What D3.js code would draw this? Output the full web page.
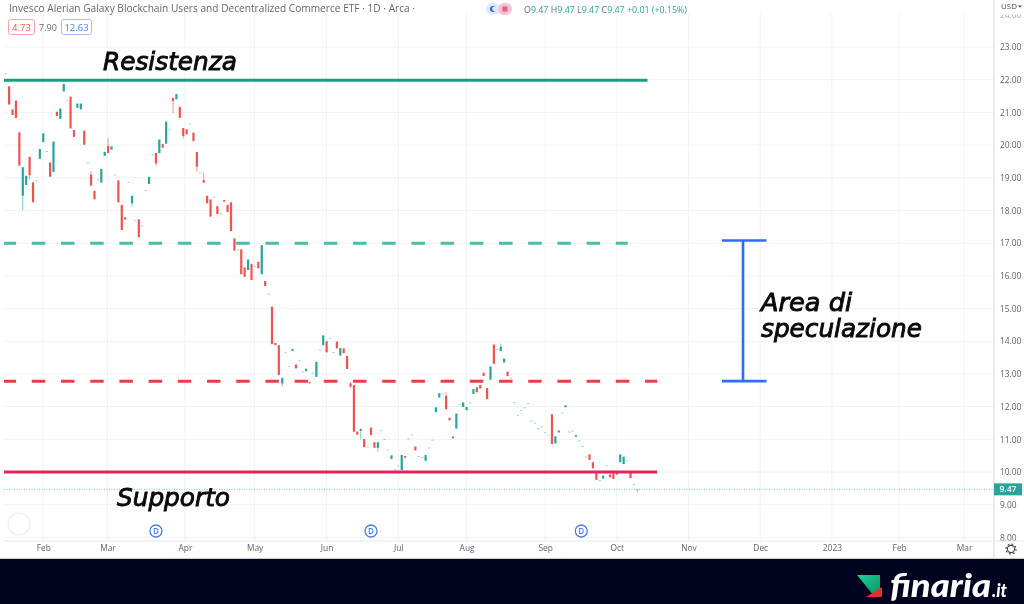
<!DOCTYPE html>
<html><head><meta charset="utf-8">
<script src="https://cdn.jsdelivr.net/npm/d3@7"></script>
<style>
html,body{margin:0;padding:0;background:#fff;overflow:hidden}
svg{display:block;filter:blur(0.3px)}
text{font-family:"Open Sans",sans-serif}
.hand{font-family:"DejaVu Sans",sans-serif;font-style:italic;font-weight:400;font-size:25px;fill:#0a0a0a;stroke:#0a0a0a;stroke-width:.9px}
</style></head><body>
<svg id="c" width="1024" height="604"></svg>
<script>
const opens=[22.2,21.8,21.09,21.36,20.39,18.45,18.78,19.64,18.86,18.92,19.58,20.09,19.82,19.47,19.18,21.02,20.8,21.64,21.38,21.48,20.46,21.14,21.09,20.44,19.47,19.1,18.6,18.95,18.85,19.67,
19.97,19.86,19.1,18.92,18.17,17.79,18.88,18.22,17.71,17.73,17.54,18.62,18.81,19.72,19.76,19.75,20.03,20.04,20.5,21.44,21.4,21.17,20.52,20.48,20.66,20.38,19.79,19.16,18.93,18.45,
18.34,18.42,18.13,17.91,18.32,18.17,18.25,17.15,16.81,16.81,16.26,16.18,16.36,16.31,16.43,16.05,15.84,15.46,15.06,13.95,13.88,12.71,13.67,13.24,13.7,13.29,13.42,13.08,13.08,12.75,
13.04,12.91,13.74,13.88,14,14.11,13.67,13.99,13.56,13.78,13.55,12.71,12.66,11.24,11.26,11.01,10.78,11.36,10.91,10.74,11.28,11.01,10.69,10.4,10.09,10.2,10.06,10.49,11.03,11.15,
10.78,10.49,10.46,10.34,10.75,10.99,11.83,12.28,12.4,12.33,11.66,11.09,11.33,12.07,11.99,11.89,12.13,12.39,12.59,12.66,13.04,12.57,12.82,13.9,13.76,13.7,13.35,13.07,12.89,12.14,
11.74,11.9,11.98,12.11,11.57,11.51,11.34,11.4,11.22,11.14,11.77,10.87,11.21,11.82,11.98,11.24,11.27,11.08,10.97,10.8,10.48,10.54,10.3,9.98,9.75,9.8,10.2,9.93,9.96,9.92,
10.3,10.24,10.36,10.01,9.63,9.47];
const closes=[22.2,21.24,20.92,20.83,19.37,19.32,19.06,19.08,18.25,18.92,19.88,20.36,19.82,19.03,20.11,20.89,21.12,21.87,21.38,20.51,20.25,21.27,21.27,20.01,19.47,18.76,18.34,18.95,19.27,19.79,
19.76,19.96,19.1,18.25,17.4,17.72,18.88,18.45,17.71,17.18,17.54,18.62,19.03,19.72,19.44,20.17,19.92,20.72,20.5,21.35,21.56,20.83,20.28,20.33,20.66,20.12,19.34,19.16,18.85,18.22,
17.81,18.42,17.89,17.91,18.27,17.95,17.37,16.77,16.81,16.05,15.97,16.5,15.87,16.31,16.23,16.94,15.69,15.46,13.91,13.88,12.97,12.88,13.67,13.24,13.76,13.17,13.42,13.08,13.16,12.71,
13.04,13.37,13.74,14.18,13.66,14.11,13.67,13.78,13.79,13.63,13.15,12.61,11.23,11.14,11.32,10.76,10.78,11.13,10.74,10.91,11.28,11.01,10.69,10.51,10.09,10.2,10.52,10.45,11.03,11.15,
10.66,10.49,10.46,10.52,10.75,10.99,11.98,12.41,12.4,11.92,11.58,11.03,11.79,12.07,12.13,11.99,12.13,12.54,12.44,12.55,12.94,12.23,13.23,13.31,13.76,13.83,13.47,12.93,12.89,12.14,
11.74,11.9,11.98,12.11,11.57,11.51,11.34,11.4,11.22,11.14,10.86,11.09,11.27,11.82,12.04,11.24,11.27,11.13,10.97,10.8,10.48,10.37,10.11,9.76,9.75,9.89,10.2,9.84,9.79,10,
10.54,10.47,10.36,9.81,9.63,9.47];
const wickHighs={30:20.21,145:13.93,178:10.06,129:12.44,58:19.16,101:12.75,25:19.2};
const wickLows={5:18.01,7:18.96,37:18.12,44:19.36,49:20.98,52:20.2,56:19.18,81:12.61,104:11,109:10.62,117:10.39,185:9.37,101:12.57};
const priceTicks=[8,9,10,11,12,13,14,15,16,17,18,19,20,21,22,23,24];
const monthIndex=[11,29.8,52.5,72.9,94,115,135,158,179,200,221,242,261.7,280.7];
const monthLabels=["Feb","Mar","Apr","May","Jun","Jul","Aug","Sep","Oct","Nov","Dec","2023","Feb","Mar"];
const dividendIndex=[44,107,168.6];
const levels=[{p:21.98,c:"#1c9d85",end:188,w:3,dash:null},{p:17.0,c:"#45bfa5",end:182.2,w:3,dash:"13.5 15.7"},{p:12.78,c:"#f23a4b",end:190.8,w:3,dash:"13.5 15.7"},{p:10.0,c:"#e8225f",end:190.8,w:3,dash:null}];
const rangeBand=[12.78,17.08];
const lastPrice=9.47;

const svg=d3.select("#c");
const y=d3.scaleLinear().domain([8,23]).range([537.4,47]);
const x=d3.scaleLinear().domain([0,185]).range([5.7,637.3]);
const R=994,B=541;

const g=svg.append("g");
g.selectAll(".h").data(priceTicks.filter(d=>d<24)).join("line").attr("x1",4).attr("x2",R).attr("y1",d=>y(d)).attr("y2",d=>y(d)).attr("stroke","#f1f2f4").attr("stroke-width",1);
g.selectAll(".v").data(monthIndex).join("line").attr("x1",d=>x(d)).attr("x2",d=>x(d)).attr("y1",13).attr("y2",B).attr("stroke","#f1f2f4").attr("stroke-width",1);

svg.append("line").attr("x1",4).attr("x2",R).attr("y1",y(lastPrice)).attr("y2",y(lastPrice)).attr("stroke","#26a69a").attr("stroke-width",1).attr("stroke-dasharray","1 1.5").attr("opacity",.65);

const n=d3.range(opens.length);
const col=i=>closes[i]>=opens[i]?"#26a69a":"#ef5350";
const cg=svg.append("g");
n.forEach(i=>{
  const o=opens[i],c=closes[i],hi=wickHighs[i]??Math.max(o,c),lo=wickLows[i]??Math.min(o,c);
  const doji=o===c;
  if(hi>Math.max(o,c)||lo<Math.min(o,c))
    cg.append("line").attr("x1",x(i)).attr("x2",x(i)).attr("y1",y(hi)).attr("y2",y(lo)).attr("stroke",col(i)).attr("stroke-width",1).attr("opacity",.6);
  const t=y(Math.max(o,c)),h=Math.max(1,Math.abs(y(o)-y(c)));
  cg.append("rect").attr("x",x(i)-(doji?1.2:1.1)).attr("width",doji?2.4:2.2).attr("y",t).attr("height",h).attr("fill",col(i)).attr("opacity",doji?.45:1);
});

svg.selectAll(".lv").data(levels).join("line").attr("x1",4).attr("x2",d=>x(d.end)).attr("y1",d=>y(d.p)).attr("y2",d=>y(d.p)).attr("stroke",d=>d.c).attr("stroke-width",d=>d.w).attr("stroke-dasharray",d=>d.dash).attr("stroke-dashoffset",1.4);

const bc="#2f6bff";
const [bl,bt]=rangeBand;
svg.append("line").attr("x1",743).attr("x2",743).attr("y1",y(bt)).attr("y2",y(bl)).attr("stroke",bc).attr("stroke-width",2.6);
[bt,bl].forEach(v=>svg.append("line").attr("x1",722).attr("x2",766.5).attr("y1",y(v)).attr("y2",y(v)).attr("stroke",bc).attr("stroke-width",2.6));

const dg=svg.selectAll(".d").data(dividendIndex).join("g").attr("transform",d=>`translate(${x(d)},531)`);
dg.append("circle").attr("r",6).attr("fill","#fff").attr("stroke","#4a7df0").attr("stroke-width",1.3);
dg.append("text").attr("text-anchor","middle").attr("y",3).attr("font-size",8).attr("font-weight",600).attr("fill","#4a7df0").text("D");
svg.append("circle").attr("cx",19).attr("cy",524).attr("r",11).attr("fill","#fff").attr("stroke","#eceef0").attr("stroke-width",1.2);

const hand=(t,px,py,len)=>svg.append("text").attr("class","hand").attr("x",px).attr("y",py).attr("textLength",len).attr("lengthAdjust","spacingAndGlyphs").text(t);
hand("Resistenza",103,70,134);
hand("Supporto",117,506,113);
hand("Area di",761,311,91);
hand("speculazione",761,337,161);

svg.append("rect").attr("x",R).attr("y",0).attr("width",30).attr("height",559).attr("fill","#fff");
svg.append("rect").attr("x",0).attr("y",B).attr("width",1024).attr("height",18).attr("fill","#fff");
const ya=svg.append("g").attr("transform",`translate(${R},0)`).call(d3.axisRight(y).tickValues(priceTicks).tickFormat(d3.format(".2f")).tickSize(0).tickPadding(6));
ya.select(".domain").remove();
ya.selectAll("text").attr("font-size",8.4).attr("fill","#5f626c").attr("style","font-family:'Open Sans',sans-serif");
ya.selectAll("text").filter(d=>d===24).attr("opacity",.55);
svg.append("rect").attr("x",R+1).attr("y",0).attr("width",29).attr("height",14.5).attr("fill","#fff");
const xa=svg.append("g").attr("transform",`translate(0,${B+2.5})`).call(d3.axisBottom(x).tickValues(monthIndex).tickFormat((d,i)=>monthLabels[i]).tickSize(0).tickPadding(2));
xa.select(".domain").remove();
xa.selectAll("text").attr("font-size",8.4).attr("fill","#5f626c").attr("style","font-family:'Open Sans',sans-serif");
svg.append("line").attr("x1",R).attr("x2",R).attr("y1",0).attr("y2",559).attr("stroke","#d6d8dd");
svg.append("line").attr("x1",4).attr("x2",1024).attr("y1",B).attr("y2",B).attr("stroke","#e6e8ea");

svg.append("rect").attr("x",R).attr("y",y(lastPrice)-6).attr("width",28).attr("height",12).attr("fill","#26a69a");
svg.append("text").attr("x",1008).attr("y",y(lastPrice)+3).attr("text-anchor","middle").attr("font-size",8.6).attr("font-weight",600).attr("fill","#fff").text(lastPrice.toFixed(2));
svg.append("text").attr("x",1001).attr("y",9).attr("font-size",8).attr("fill","#4a4e58").text("USD");
svg.append("path").attr("d","M1018 5.5H1022L1020 7.8Z").attr("fill","#4a4e58");

const gear=svg.append("g").attr("transform","translate(1011,549)");
gear.append("circle").attr("r",3.6).attr("fill","none").attr("stroke","#3f434d").attr("stroke-width",1.1);
gear.append("circle").attr("r",5).attr("fill","none").attr("stroke","#3f434d").attr("stroke-width",1.2).attr("stroke-dasharray","1.8 2.1");

svg.append("text").attr("x",9).attr("y",12).attr("font-size",10.5).attr("fill","#62656f").attr("textLength",406).attr("lengthAdjust","spacingAndGlyphs").text("Invesco Alerian Galaxy Blockchain Users and Decentralized Commerce ETF · 1D · Arca ·");
svg.append("rect").attr("x",8.5).attr("y",19.5).attr("width",26).attr("height",15).attr("rx",2).attr("fill","#fff").attr("stroke","#f7a3a9");
svg.append("text").attr("x",21.5).attr("y",31).attr("text-anchor","middle").attr("font-size",9.5).attr("fill","#ef5350").text("4.73");
svg.append("text").attr("x",48).attr("y",31).attr("text-anchor","middle").attr("font-size",9).attr("fill","#6a6d78").text("7.90");
svg.append("rect").attr("x",61.5).attr("y",19.5).attr("width",30).attr("height",15).attr("rx",2).attr("fill","#fff").attr("stroke","#a6bff8");
svg.append("text").attr("x",76.5).attr("y",31).attr("text-anchor","middle").attr("font-size",9.5).attr("fill","#4a7df0").text("12.63");
svg.append("rect").attr("x",486).attr("y",3).attr("width",14).attr("height",12).attr("rx",6).attr("fill","#dfe8fd");
svg.append("rect").attr("x",498).attr("y",3).attr("width",14).attr("height",12).attr("rx",6).attr("fill","#fbc1d2");
svg.append("circle").attr("cx",493).attr("cy",9).attr("r",3).attr("fill","#1f5fe8");
svg.append("circle").attr("cx",494.5).attr("cy",9).attr("r",2.4).attr("fill","#dfe8fd");
svg.append("rect").attr("x",502.5).attr("y",6.5).attr("width",5).attr("height",5).attr("fill","#d9638a");
const ohlc=svg.append("text").attr("x",524).attr("y",12.5).attr("font-size",9.5).attr("fill","#6a6d78").attr("textLength",163).attr("lengthAdjust","spacingAndGlyphs");
[["O",0],["9.47",1],[" H",0],["9.47",1],[" L",0],["9.47",1],[" C",0],["9.47",1],[" +0.01 (+0.15%)",1]].forEach(([t,k])=>ohlc.append("tspan").attr("fill",k?"#26a69a":"#6a6d78").text(t));

svg.append("rect").attr("x",0).attr("y",559).attr("width",1024).attr("height",45).attr("fill","#02031f");
svg.append("line").attr("x1",0).attr("x2",1024).attr("y1",558.5).attr("y2",558.5).attr("stroke","#c9cbd0");
const grad=svg.append("defs").append("linearGradient").attr("id","lg").attr("x1",0).attr("y1",0).attr("x2",1).attr("y2",1);
grad.append("stop").attr("offset",0).attr("stop-color","#1fd18f");grad.append("stop").attr("offset",1).attr("stop-color","#0b8f68");
svg.append("path").attr("d","M857 575H880V591L874 596Z").attr("fill","url(#lg)");
svg.append("path").attr("d","M866 597L882 587V597Z").attr("fill","#ee2a2a");
const logoStyle="font-family:Lato,sans-serif";
svg.append("text").attr("x",890).attr("y",597).attr("font-size",33).attr("font-weight",900).attr("font-style","italic").attr("fill","#fff").attr("style",logoStyle).attr("textLength",101).attr("lengthAdjust","spacingAndGlyphs").text("finaria");
svg.append("text").attr("x",992).attr("y",597).attr("font-size",18).attr("font-weight",900).attr("font-style","italic").attr("fill","#fff").attr("style",logoStyle).attr("textLength",15).attr("lengthAdjust","spacingAndGlyphs").text(".it");
</script></body></html>
